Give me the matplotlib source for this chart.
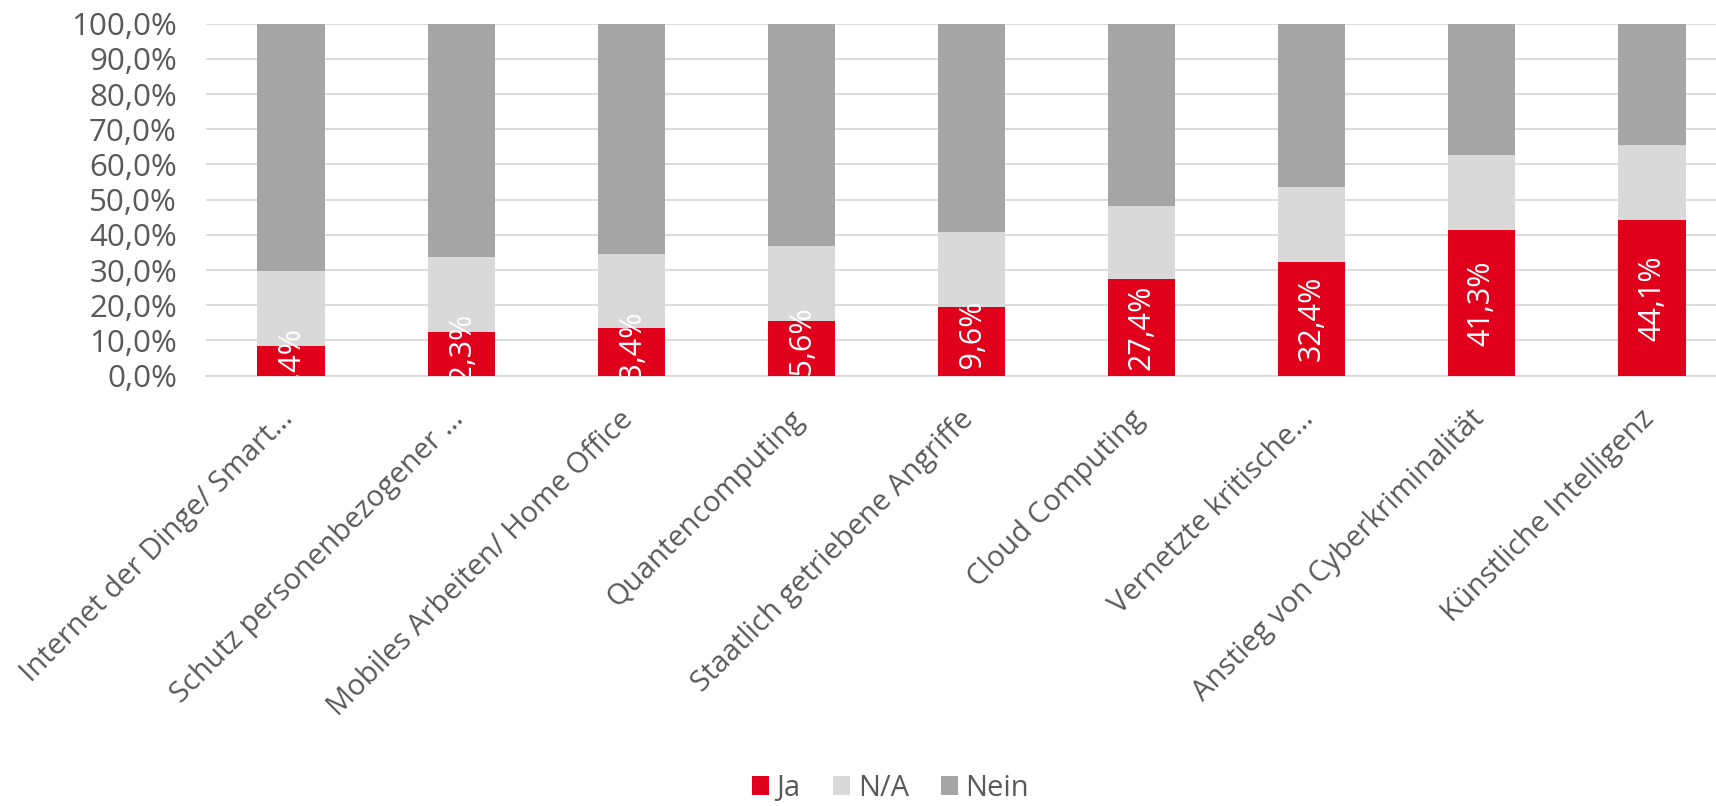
import matplotlib
matplotlib.use("Agg")
import matplotlib.pyplot as plt
import numpy as np
from matplotlib.ticker import FuncFormatter
from matplotlib.transforms import ScaledTranslation

categories = [
    "Internet der Dinge/ Smart…",
    "Schutz personenbezogener …",
    "Mobiles Arbeiten/ Home Office",
    "Quantencomputing",
    "Staatlich getriebene Angriffe",
    "Cloud Computing",
    "Vernetzte kritische…",
    "Anstieg von Cyberkriminalität",
    "Künstliche Intelligenz",
]
ja = [8.4, 12.3, 13.4, 15.6, 19.6, 27.4, 32.4, 41.3, 44.1]
na = [21.3, 21.3, 21.2, 21.2, 21.2, 20.9, 21.2, 21.3, 21.3]
nein = [100 - a - b for a, b in zip(ja, na)]
series_names = ["Ja", "N/A", "Nein"]
colors = ["#E0001B", "#D9D9D9", "#A5A5A5"]

plt.rcParams['font.family'] = ['Open Sans', 'DejaVu Sans']
text_color = "#595959"

fig = plt.figure(figsize=(17.16, 8.06), dpi=100)
W, H = 1716, 806
left_px, right_px = 206, 1737
top_px, bot_px = 23.7, 375.6
ax = fig.add_axes([left_px / W, 1 - bot_px / H, (right_px - left_px) / W, (bot_px - top_px) / H])

x = np.arange(len(categories))
bw = 0.395
b1 = ax.bar(x, ja, bw, color=colors[0], label=series_names[0], zorder=3)
b2 = ax.bar(x, na, bw, bottom=ja, color=colors[1], label=series_names[1], zorder=3)
bottom2 = [a + b for a, b in zip(ja, na)]
b3 = ax.bar(x, nein, bw, bottom=bottom2, color=colors[2], label=series_names[2], zorder=3)

for xi, v in zip(x, ja):
    ax.text(xi, v / 2, f"{v:.1f}%".replace(".", ","), rotation=90,
            ha="center", va="center", color="white", fontsize=22, zorder=4,
            clip_on=True)

ax.set_xlim(-0.5, len(categories) - 0.5)
ax.set_ylim(0, 100)
ax.set_yticks(np.arange(0, 101, 10))
ax.yaxis.set_major_formatter(FuncFormatter(lambda v, p: f"{v:.1f}%".replace(".", ",")))
ax.grid(axis="y", color="#D9D9D9", linewidth=1.3, zorder=0)
for s in ["left", "right", "top"]:
    ax.spines[s].set_visible(False)
ax.spines["bottom"].set_color("#D9D9D9")
ax.spines["bottom"].set_linewidth(1.3)
ax.tick_params(axis="y", length=0, pad=21, labelsize=22.5, labelcolor=text_color)
ax.tick_params(axis="x", length=0, pad=21, labelsize=21, labelcolor=text_color)
ax.set_xticks(x)
ax.set_xticklabels(categories, rotation=45, ha="right")
off = ScaledTranslation(6 / 72, 0, fig.dpi_scale_trans)
for lab in ax.get_xticklabels():
    lab.set_transform(lab.get_transform() + off)

fig.legend(handles=[b1, b2, b3], labels=series_names, loc="center",
           bbox_to_anchor=(0.519, 0.022), ncol=3, frameon=False,
           fontsize=21, labelcolor=text_color, handlelength=0.6, handleheight=0.6,
           handletextpad=0.25, columnspacing=1.1)

fig.savefig("out.png", dpi=100)
